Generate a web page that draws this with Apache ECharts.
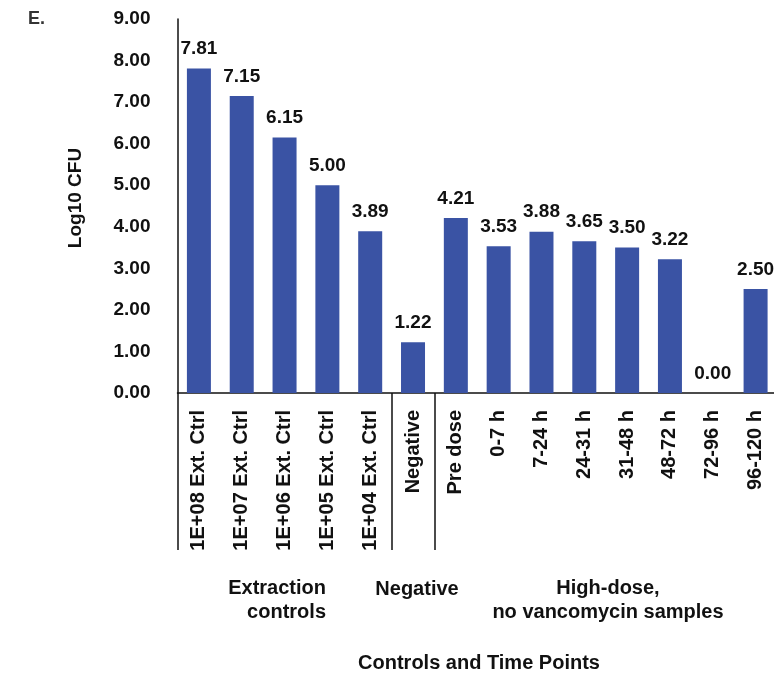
<!DOCTYPE html>
<html>
<head>
<meta charset="utf-8">
<script src="https://cdn.jsdelivr.net/npm/echarts@6/dist/echarts.min.js"></script>
<style>
  html, body { margin: 0; padding: 0; background: #fff; overflow: hidden; }
  #chart { width: 777px; height: 674px; }
</style>
</head>
<body>
<div id="chart"></div>
<script>
// data
const categories = [
    '1E+08 Ext. Ctrl', '1E+07 Ext. Ctrl', '1E+06 Ext. Ctrl', '1E+05 Ext. Ctrl', '1E+04 Ext. Ctrl',
    'Negative',
    'Pre dose', '0-7 h', '7-24 h', '24-31 h', '31-48 h', '48-72 h', '72-96 h', '96-120 h'
];
const log10Cfu = [7.81, 7.15, 6.15, 5.00, 3.89, 1.22, 4.21, 3.53, 3.88, 3.65, 3.50, 3.22, 0.00, 2.50];
const groupBreaks = [0, 5, 6];   // category index where a group starts
const yMin = 0, yMax = 9, yStep = 1;

const font = 'Liberation Sans, Arial, sans-serif';
const ink = '#111';

const chart = echarts.init(document.getElementById('chart'));

chart.setOption({
    animation: false,
    grid: { top: 19, bottom: 281, left: 177.5, right: 0 },
    xAxis: {
        type: 'category',
        data: categories,
        axisLine: { lineStyle: { color: ink, width: 1.5 } },
        axisTick: {
            show: true,
            length: 157,
            interval: (i) => groupBreaks.includes(i),
            lineStyle: { color: ink, width: 1.5 }
        },
        axisLabel: {
            interval: 0, rotate: 90, margin: 17,
            color: ink, fontFamily: font, fontWeight: 'bold', fontSize: 20
        }
    },
    yAxis: {
        type: 'value',
        min: yMin, max: yMax, interval: yStep,
        name: 'Log10 CFU',
        nameLocation: 'middle',
        nameGap: 92,
        nameTextStyle: { color: ink, fontFamily: font, fontWeight: 'bold', fontSize: 19, padding: [0, 0, 0, 16] },
        axisLine: { show: true, lineStyle: { color: ink, width: 1.5 } },
        axisTick: { show: false },
        splitLine: { show: false },
        axisLabel: {
            margin: 27, color: ink, fontFamily: font, fontWeight: 'bold', fontSize: 19,
            formatter: v => v.toFixed(2)
        }
    },
    series: [{
        type: 'bar',
        data: log10Cfu,
        barWidth: 24,
        itemStyle: { color: '#3a53a4' },
        label: {
            show: true, position: 'top', distance: 10,
            color: ink, fontFamily: font, fontWeight: 'bold', fontSize: 19,
            formatter: p => p.value.toFixed(2)
        }
    }],
    graphic: [
        { type: 'text', left: 28, top: 10, style: { text: 'E.', fill: '#333', font: 'bold 18px ' + font } },
        { type: 'text', x: 326, y: 600, style: { text: 'Extraction\ncontrols', align: 'right', verticalAlign: 'middle', lineHeight: 24, fill: ink, font: 'bold 20px ' + font } },
        { type: 'text', x: 417, y: 589, style: { text: 'Negative', align: 'center', verticalAlign: 'middle', fill: ink, font: 'bold 20px ' + font } },
        { type: 'text', x: 608, y: 600, style: { text: 'High-dose,\nno vancomycin samples', align: 'center', verticalAlign: 'middle', lineHeight: 24, fill: ink, font: 'bold 20px ' + font } },
        { type: 'text', x: 479, y: 663, style: { text: 'Controls and Time Points', align: 'center', verticalAlign: 'middle', fill: ink, font: 'bold 20px ' + font } }
    ]
});
</script>
</body>
</html>
